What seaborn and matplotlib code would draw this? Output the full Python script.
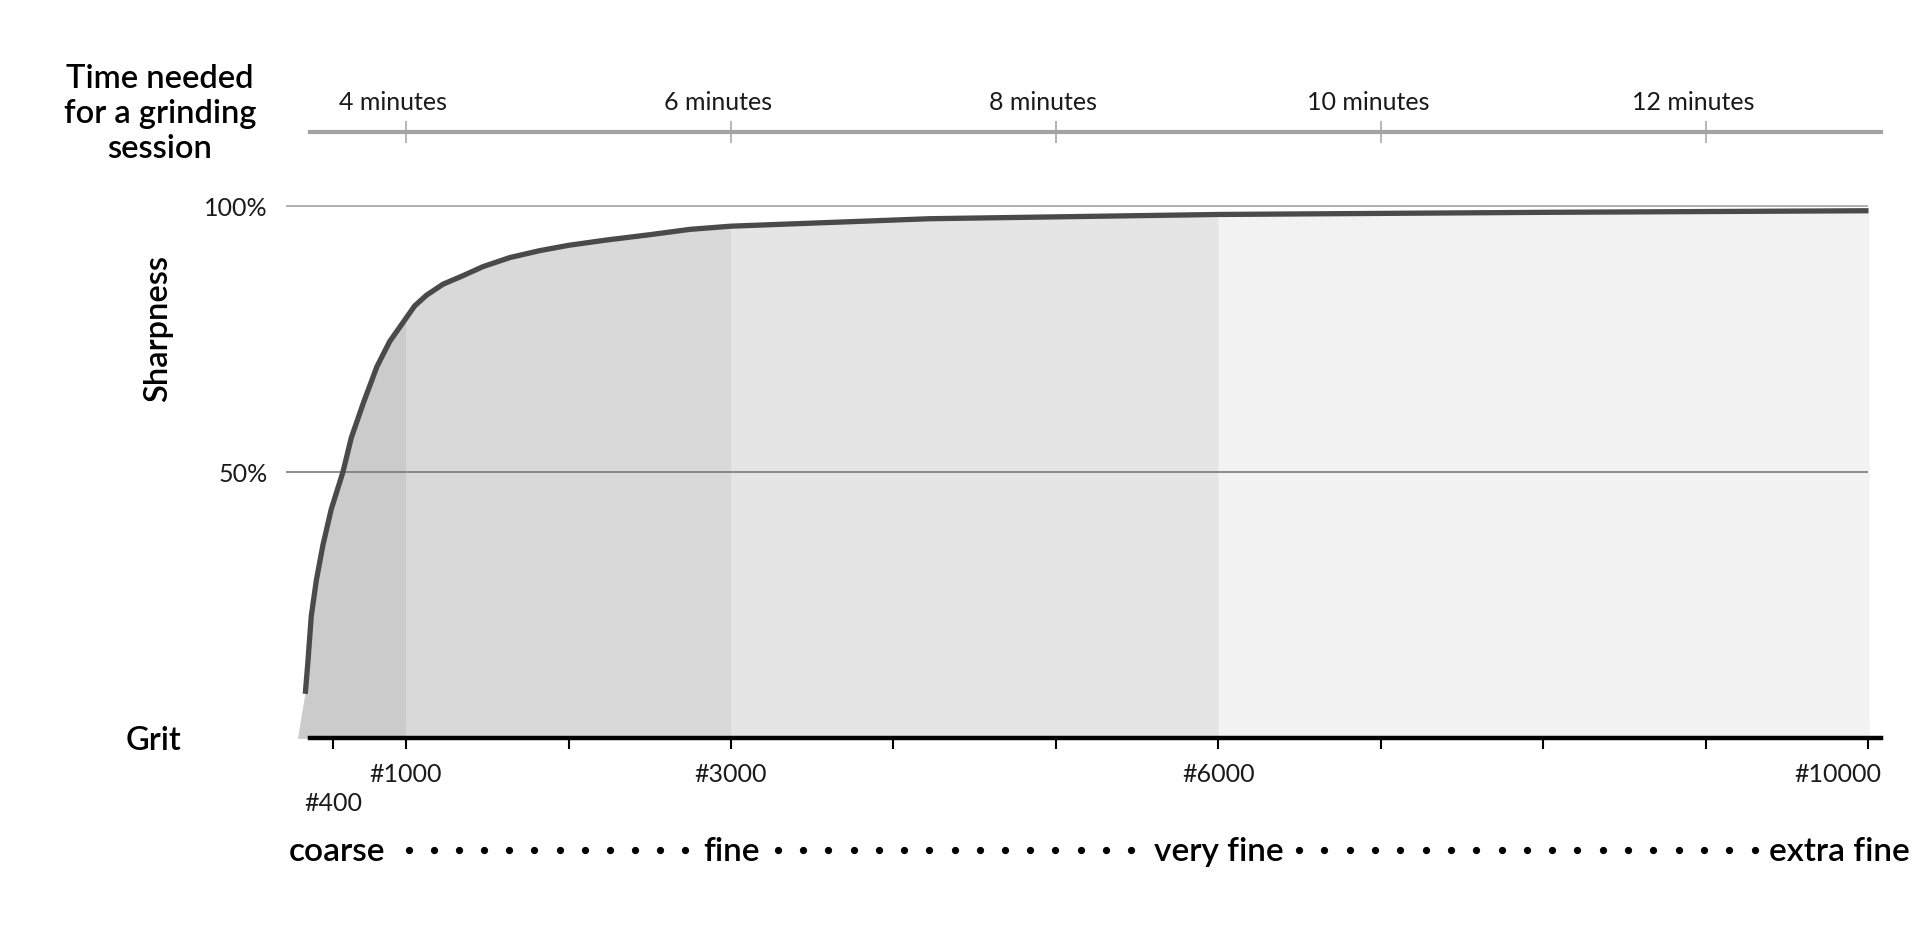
import numpy as np
import pandas as pd
import matplotlib
matplotlib.use('Agg')
import matplotlib.pyplot as plt
import matplotlib.transforms as mtransforms
import seaborn as sns

# sharpness curve, x in minutes of grinding
time_min = [3.380, 3.396, 3.417, 3.448, 3.489, 3.540, 3.612, 3.663, 3.739, 3.821, 3.899,
            4.000, 4.053, 4.125, 4.228, 4.351, 4.474, 4.639, 4.823, 5.000, 5.234, 5.501,
            5.747, 6.000, 7.22, 9.00, 11.0, 13.0]
sharpness = [8.3, 14.2, 22.9, 29.6, 36.3, 43.0, 50.0, 56.4, 63.1, 69.8, 74.5,
             78.9, 81.2, 83.2, 85.3, 86.9, 88.6, 90.3, 91.6, 92.6, 93.6, 94.6,
             95.6, 96.2, 97.6, 98.4, 98.8, 99.1]
fill_start = 3.335

# grit stones and where they sit on the time scale
grit_min = [3.55, 4, 6, 9, 13]
grit_labels = ['\n#400', '#1000', '#3000', '#6000', '#10000']
minute_ticks = [5, 7, 8, 10, 11, 12]

time_ticks = [4, 6, 8, 10, 12]
time_labels = ['4 minutes', '6 minutes', '8 minutes', '10 minutes', '12 minutes']

band_edges = [fill_start, 4, 6, 9, 13]
band_colors = ['#cbcbcb', '#d9d9d9', '#e5e5e5', '#f2f2f2']

fineness = ['coarse', 'fine', 'very fine', 'extra fine']

################################################################################

sns.set_theme(style='white')
plt.rcParams['font.family'] = ['Lato', 'DejaVu Sans']

fig = plt.figure(figsize=(19.31, 9.45), dpi=100)
W, H = 1931, 945
ax = fig.add_axes([286 / W, 206 / H, (1881 - 286) / W, 606 / H])

x_min, x_max = 3.2615, 13.077
ax.set_xlim(x_min, x_max)
ax.set_ylim(0, 113.9)

# shaded bands under the curve
x_fill = np.array([fill_start] + time_min)
y_fill = np.array([0] + sharpness)
for i, col in enumerate(band_colors):
    m = (x_fill >= band_edges[i]) & (x_fill <= band_edges[i + 1])
    ax.fill_between(x_fill[m], 0, y_fill[m], color=col, lw=0.6, edgecolor=col, zorder=1)

# reference lines
ax.hlines(100, x_min, 13, color='#aaaaaa', lw=1.3, zorder=2)
ax.hlines(50, x_min, 13, color='#7a7a7a', lw=1.2, zorder=2)

sns.lineplot(x=time_min, y=sharpness, ax=ax, color='#4a4a4a', lw=3.8,
             sort=False, estimator=None, zorder=3)
ax.lines[-1].set_solid_capstyle('butt')
ax.lines[-1].set_solid_joinstyle('round')

# axes styling
for s in ['left', 'right', 'top']:
    ax.spines[s].set_visible(False)
ax.spines['bottom'].set_color('black')
ax.spines['bottom'].set_linewidth(3.2)
ax.spines['bottom'].set_bounds(3.409, x_max)
ax.spines['bottom'].set_zorder(4)

lab_font = dict(fontsize=18, color='#1a1a1a')

ax.set_xticks(grit_min, labels=grit_labels, linespacing=1.3, **lab_font)
ax.set_xticks(minute_ticks, minor=True)
ax.tick_params(axis='x', which='both', direction='inout', length=16.5, width=1.5,
               color='black', bottom=True, pad=9)
last = ax.get_xticklabels()[-1]
last.set_horizontalalignment('right')
last.set_transform(last.get_transform() + mtransforms.ScaledTranslation(13 / 100, 0, fig.dpi_scale_trans))

ax.set_yticks([50, 100], labels=['50%', '100%'], **lab_font)
ax.tick_params(axis='y', length=0, pad=13)
ax.grid(False)

# time axis on top
secax = ax.secondary_xaxis('top')
secax.set_xticks(time_ticks, labels=time_labels, **lab_font)
secax.spines['top'].set_color('#a3a3a3')
secax.spines['top'].set_linewidth(3.0)
secax.spines['top'].set_bounds(3.409, x_max)
secax.tick_params(axis='x', direction='inout', length=16, width=1.1, color='#a0a0a0', pad=6)
for lab in secax.get_xticklabels():
    lab.set_transform(lab.get_transform() + mtransforms.ScaledTranslation(-13 / 100, 0, fig.dpi_scale_trans))

# titles
title_font = dict(fontsize=23.5, fontweight='semibold', color='black')
fig.text(160 / W, 1 - 114 / H, 'Time needed\nfor a grinding\nsession', ha='center', va='center',
         linespacing=1.22, **title_font)
fig.text(158 / W, 1 - 328 / H, 'Sharpness', rotation=90, ha='center', va='center', **title_font)
fig.text(181 / W, 1 - 741 / H, 'Grit', ha='right', va='center', **title_font)

# fineness scale
tr = ax.get_xaxis_transform()
y_words = -0.2005
y_dots = -0.1855
word_font = dict(fontsize=24, fontweight='semibold', color='black', clip_on=False,
                 transform=tr, va='baseline')
ax.text(3.28, y_words, fineness[0], ha='left', **word_font)
ax.text(6, y_words, fineness[1], ha='center', **word_font)
ax.text(9, y_words, fineness[2], ha='center', **word_font)
ax.text(13.255, y_words, fineness[3], ha='right', **word_font)

for a, b, n in [(4.018, 5.717, 12), (6.289, 8.462, 15), (9.495, 12.30, 19)]:
    xs = np.linspace(a, b, n)
    ax.plot(xs, np.full(n, y_dots), 'o', ms=4.2, color='black', transform=tr, clip_on=False)

fig.savefig('out.png', dpi=100)
